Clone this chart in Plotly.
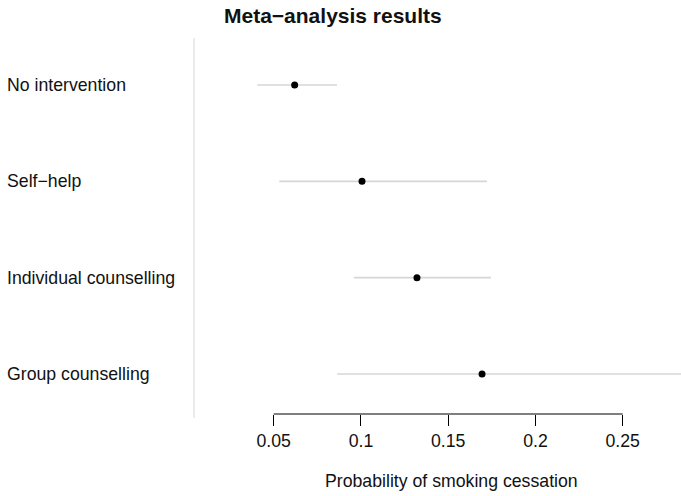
import plotly.graph_objects as go

categories = ["No intervention", "Self\u2212help", "Individual counselling", "Group counselling"]
estimates = [0.0620, 0.1006, 0.1321, 0.1694]
lower = [0.0406, 0.0532, 0.0960, 0.0864]
upper = [0.0863, 0.1722, 0.1745, 0.2900]
tick_vals = [0.05, 0.10, 0.15, 0.20, 0.25]
tick_text = ["0.05", "0.1", "0.15", "0.2", "0.25"]

FONT = "Liberation Sans, Arial, Helvetica, sans-serif"
W, H = 681, 496
L, T = 194, 38
BOT = 414
R, B = 0, H - BOT
pw = W - L - R
ph = BOT - T

ypos = list(range(1, len(categories) + 1))

fig = go.Figure()
for i, cat in enumerate(categories):
    fig.add_trace(go.Scatter(
        x=[lower[i], upper[i]], y=[ypos[i], ypos[i]], mode="lines",
        line=dict(color="#d6d6d6", width=1.6), showlegend=False, hoverinfo="skip"))
fig.add_trace(go.Scatter(
    x=estimates, y=ypos, mode="markers",
    marker=dict(color="black", size=7), showlegend=False))

shapes = [
    dict(type="line", xref="paper", yref="paper", x0=0, x1=0, y0=-4 / ph, y1=1,
         line=dict(color="#e0e0e0", width=1.3)),
    dict(type="line", xref="x", yref="paper", x0=tick_vals[0], x1=tick_vals[-1], y0=0, y1=0,
         line=dict(color="black", width=1)),
]

annotations = [
    dict(text="<b>Meta\u2212analysis results</b>", xref="paper", yref="paper",
         x=(333 - L) / pw, y=1 + (38 - 16) / ph, xanchor="center", yanchor="middle",
         showarrow=False, font=dict(family=FONT, size=21, color="#111111")),
    dict(text="Probability of smoking cessation", xref="paper", yref="paper",
         x=(451 - L) / pw, y=-(481 - 414) / ph, xanchor="center", yanchor="middle",
         showarrow=False, font=dict(family=FONT, size=17.7, color="#111111")),
]
for i, cat in enumerate(categories):
    annotations.append(dict(text=cat, xref="paper", yref="y", x=(5 - L) / pw, y=ypos[i],
                            xanchor="left", yanchor="middle", showarrow=False,
                            font=dict(family=FONT, size=17.7, color="#111111")))

fig.update_layout(
    width=W, height=H, margin=dict(l=L, r=R, t=T, b=B),
    paper_bgcolor="white", plot_bgcolor="white",
    font=dict(family=FONT, size=17.7, color="#111111"),
    shapes=shapes, annotations=annotations,
    xaxis=dict(range=[0.05 - (273.7 - L) / 1745, 0.05 + (W - 273.7) / 1745],
               tickvals=tick_vals, ticktext=tick_text, ticks="outside", ticklen=11,
               tickcolor="black", tickwidth=1, showline=False, showgrid=False,
               zeroline=False, tickfont=dict(family=FONT, size=17.7, color="#111111")),
    yaxis=dict(range=[4 + 40 / 96.33, 1 - 47 / 96.33], showticklabels=False, ticks="",
               showline=False, showgrid=False, zeroline=False),
)

fig.write_html(
    "out.html",
    config={"displayModeBar": False},
    post_script="document.body.style.margin='0';document.body.style.overflow='hidden';",
)
